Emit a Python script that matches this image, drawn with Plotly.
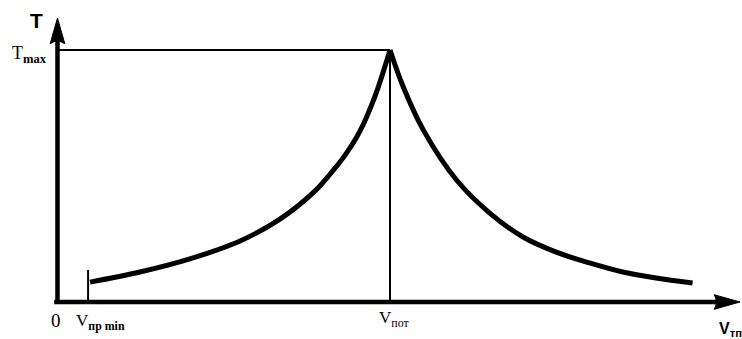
import plotly.graph_objects as go

# Rising branch of T(V): from V_пр min up to the peak at V_пот
v_rise = [0.098, 0.248, 0.398, 0.549, 0.669, 0.774, 0.820, 0.865, 0.910, 0.955, 1.00]
t_rise = [0.079, 0.119, 0.171, 0.242, 0.329, 0.440, 0.508, 0.583, 0.679, 0.817, 1.00]

# Falling branch of T(V): from the peak down towards large V
v_fall = [1.00, 1.04, 1.10, 1.20, 1.30, 1.40, 1.50, 1.60, 1.70, 1.80, 1.91]
t_fall = [1.00, 0.853, 0.683, 0.484, 0.353, 0.258, 0.198, 0.155, 0.119, 0.095, 0.075]

# Characteristic points
v_pot = 1.0       # V_пот
t_max = 1.0       # T_max
v_min = 0.092     # V_пр min
v_min_tick = 0.127

# Axis extents (data units)
x_range = [-0.1729, 2.0586]
y_range = [-0.1468, 1.1984]

fig = go.Figure()

line_style = dict(color="black", width=5, shape="spline", smoothing=1.0)
fig.add_trace(go.Scatter(x=v_rise, y=t_rise, mode="lines", line=line_style,
                         hoverinfo="skip", showlegend=False))
fig.add_trace(go.Scatter(x=v_fall, y=t_fall, mode="lines", line=line_style,
                         hoverinfo="skip", showlegend=False))

shapes = [
    # vertical axis (T)
    dict(type="line", x0=0, y0=-0.008, x1=0, y1=1.06,
         line=dict(color="black", width=4.5)),
    # horizontal axis (V)
    dict(type="line", x0=-0.01, y0=0, x1=1.99, y1=0,
         line=dict(color="black", width=4.5)),
    # arrowhead on the T axis
    dict(type="path",
         path="M 0,1.127 L 0.022,1.025 Q 0,1.045 -0.022,1.025 Z",
         fillcolor="black", line=dict(color="black", width=1)),
    # arrowhead on the V axis
    dict(type="path",
         path="M 2.0526,0 L 1.975,0.029 Q 1.988,0 1.975,-0.029 Z",
         fillcolor="black", line=dict(color="black", width=1)),
    # T_max level
    dict(type="line", x0=0, y0=t_max, x1=v_pot, y1=t_max,
         line=dict(color="black", width=2)),
    # drop line at V_пот
    dict(type="line", x0=v_pot, y0=0, x1=v_pot, y1=t_max,
         line=dict(color="black", width=2)),
    # V_пр min marker
    dict(type="line", x0=v_min, y0=0, x1=v_min, y1=v_min_tick,
         line=dict(color="black", width=2)),
]

serif = "Liberation Serif"
sans = "Liberation Sans"

annotations = [
    dict(x=-0.062, y=1.117, text="<b>T</b>", showarrow=False,
         font=dict(family=sans, size=21, color="black")),
    dict(x=-0.083, y=0.983, text="T<sub><b>max</b></sub>", showarrow=False,
         font=dict(family=serif, size=18, color="black")),
    dict(x=-0.005, y=-0.075, text="0", showarrow=False,
         font=dict(family=serif, size=19, color="black")),
    dict(x=0.128, y=-0.078, text="V<sub><b>пр min</b></sub>", showarrow=False,
         font=dict(family=serif, size=17, color="black")),
    dict(x=1.012, y=-0.068, text="V<sub>пот</sub>", showarrow=False,
         font=dict(family=serif, size=17, color="black")),
    dict(x=2.025, y=-0.11, text="<b>V</b><sub><b>тп</b></sub>", showarrow=False,
         font=dict(family=sans, size=16, color="black")),
]

fig.update_layout(
    width=742, height=339,
    margin=dict(l=0, r=0, t=0, b=0),
    paper_bgcolor="white", plot_bgcolor="white",
    shapes=shapes, annotations=annotations,
    xaxis=dict(range=x_range, visible=False, fixedrange=True),
    yaxis=dict(range=y_range, visible=False, fixedrange=True),
    showlegend=False,
)

fig.write_html("out.html", config={"displayModeBar": False})
